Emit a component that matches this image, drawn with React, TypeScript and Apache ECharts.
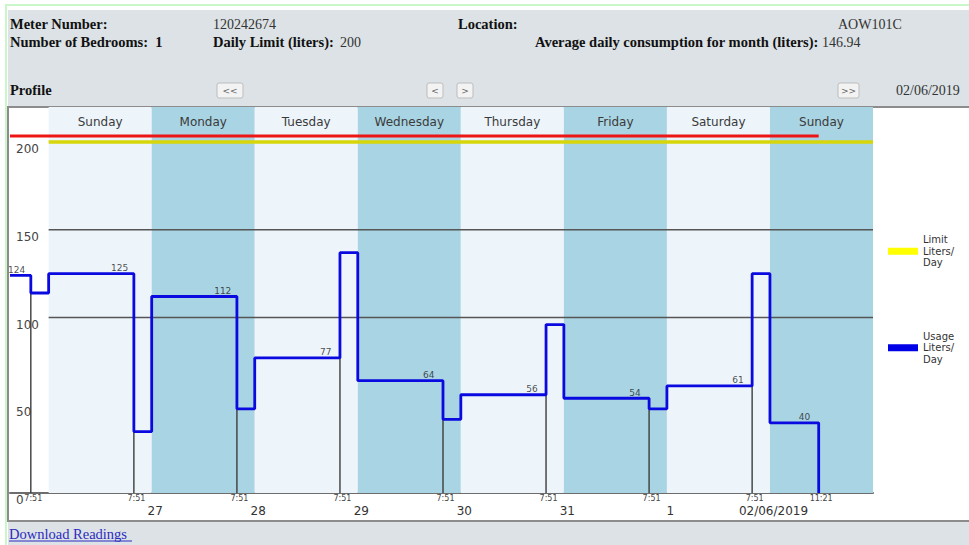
import React, { useEffect, useRef } from "react";
import * as echarts from "echarts";

// ---- data ----
const dayNames = ["Sunday", "Monday", "Tuesday", "Wednesday", "Thursday", "Friday", "Saturday", "Sunday"];
const dayStartHours = [0, 24, 48, 72, 96, 120, 144, 168];
const dateTickHours = [24, 48, 72, 96, 120, 144, 168];
const dateLabels = ["27", "28", "29", "30", "31", "1", "02/06/2019"];

// usage step line: value from segment start until reading time, then value after reading
const segmentStarts = [-9, 0, 24, 48, 72, 96, 120, 144, 168];
const dailyUsage = [124, 125, 112, 77, 64, 56, 54, 61, 40];
const readingHours = [-4.15, 19.85, 43.85, 67.85, 91.85, 115.85, 139.85, 163.85, 179.35];
const afterReading = [114, 35, 48, 137, 42, 96, 48, 125, 0];
const readingLabels = ["7:51", "7:51", "7:51", "7:51", "7:51", "7:51", "7:51", "7:51", "11:21"];

const limitValue = 200;
const peakValue = 203.5;
const guideLevels = [150, 100];
const yTicks = [0, 50, 100, 150, 200];

const X_MIN = -9;
const X_MAX = 192;
const Y_MAX = 220;

const limitName = "Limit Liters/ Day";
const usageName = "Usage Liters/ Day";

const SERIF = "'Liberation Serif', 'DejaVu Serif', serif";
const SANS = "'DejaVu Sans', Verdana, sans-serif";

export default function App() {
  const ref = useRef<HTMLDivElement>(null);

  useEffect(() => {
    if (!ref.current) return;
    const chart = echarts.init(ref.current, null, { renderer: "svg" });

    const usageData: any[] = [];
    segmentStarts.forEach((s, i) => {
      usageData.push([s, dailyUsage[i]]);
      usageData.push([readingHours[i], afterReading[i]]);
    });

    const verticalData: any[] = [];
    readingHours.forEach((t, i) => {
      verticalData.push([t, 0]);
      verticalData.push([t, Math.max(dailyUsage[i], afterReading[i])]);
      verticalData.push([t, "-"]);
    });

    const guideData: any[] = [];
    guideLevels.forEach((g) => {
      guideData.push([0, g]);
      guideData.push([X_MAX, g]);
      guideData.push([X_MAX, "-"]);
    });

    const bandAreas = dayStartHours.map((s, i) => [
      {
        name: dayNames[i],
        xAxis: s,
        itemStyle: { color: i % 2 === 0 ? "#edf5fb" : "#a9d4e3" },
      },
      { xAxis: s + 24 },
    ]);

    const valueLabelData = dailyUsage.map((v, i) => [readingHours[i] - 3.3, v]);

    const headerText = (text: string, x: number, y: number, bold = true) => ({
      type: "text",
      x,
      y,
      style: {
        text,
        fill: bold ? "#111" : "#333",
        font: `${bold ? "bold 14.5px" : "14px"} ${SERIF}`,
        verticalAlign: "middle",
      },
      z: 0,
    });

    const button = (label: string, x: number, w: number) => ({
      type: "group",
      children: [
        {
          type: "rect",
          shape: { x, y: 83, width: w, height: 15, r: 2 },
          style: { fill: "#f3f3f3", stroke: "#bdbdbd", lineWidth: 1 },
        },
        {
          type: "text",
          x: x + w / 2,
          y: 90.5,
          style: {
            text: label,
            fill: "#666",
            font: `9px ${SANS}`,
            align: "center",
            verticalAlign: "middle",
          },
        },
      ],
    });

    const option: any = {
      animation: false,
      backgroundColor: "#ffffff",
      graphic: [
        { type: "rect", shape: { x: 6, y: 5, width: 1000, height: 600 }, style: { fill: "none", stroke: "#c9f7c9", lineWidth: 2 }, z: 0 },
        { type: "rect", shape: { x: 8, y: 10, width: 961, height: 97 }, style: { fill: "#dce2e5" }, z: 0 },
        { type: "rect", shape: { x: 8, y: 522, width: 961, height: 23 }, style: { fill: "#dce2e5" }, z: 0 },
        { type: "rect", shape: { x: 8, y: 107, width: 975, height: 414 }, style: { fill: "none", stroke: "#8c8c8c", lineWidth: 2 }, z: 0 },
        headerText("Meter Number:", 10, 24),
        headerText("120242674", 213, 24, false),
        headerText("Location:", 458, 24),
        headerText("AOW101C", 838, 24, false),
        headerText("Number of Bedrooms:  1", 10, 42),
        headerText("Daily Limit (liters):", 213, 42),
        headerText("200", 340, 42, false),
        headerText("Average daily consumption for month (liters):", 535, 42),
        headerText("146.94", 822, 42, false),
        headerText("Profile", 10, 90),
        button("<<", 217, 26),
        button("<", 427, 16),
        button(">", 457, 16),
        button(">>", 838, 21),
        headerText("02/06/2019", 896, 90, false),
        {
          type: "text",
          x: 9,
          y: 534,
          style: { text: "Download Readings", fill: "#2b2bc0", font: `14.5px ${SERIF}`, verticalAlign: "middle" },
        },
        { type: "line", shape: { x1: 9, y1: 541, x2: 132, y2: 541 }, style: { stroke: "#2b2bc0", lineWidth: 1 } },
      ],
      grid: { left: 10, right: 96, top: 107, bottom: 52, containLabel: false },
      legend: {
        orient: "vertical",
        left: 883,
        top: 229,
        itemWidth: 30,
        itemHeight: 7,
        itemGap: 62,
        icon: "rect",
        selectedMode: false,
        data: [{ name: limitName, itemStyle: { color: "#ffff00" } }, { name: usageName, itemStyle: { color: "#0000e6" } }],
        formatter: (n: string) => n.split(" ").join("\n"),
        textStyle: { fontSize: 10, lineHeight: 11.5, color: "#333", fontFamily: SANS },
      },
      xAxis: [
        {
          type: "value",
          min: X_MIN,
          max: X_MAX,
          axisLine: { show: true, lineStyle: { color: "#6d6d6d", width: 2 } },
          axisTick: { show: false },
          splitLine: { show: false },
          axisLabel: {
            customValues: dateTickHours,
            formatter: (v: number) => {
              const i = dateTickHours.indexOf(v);
              return i >= 0 ? dateLabels[i] : "";
            },
            margin: 12,
            padding: [0, 0, 0, 7],
            fontSize: 12,
            color: "#333",
            fontFamily: SANS,
          },
        },
        {
          type: "value",
          min: X_MIN,
          max: X_MAX,
          position: "bottom",
          gridIndex: 0,
          axisLine: { show: false },
          axisTick: { show: false },
          splitLine: { show: false },
          axisLabel: {
            customValues: readingHours,
            formatter: (v: number) => {
              const i = readingHours.indexOf(v);
              return i >= 0 ? readingLabels[i] : "";
            },
            margin: 1,
            padding: [0, 0, 0, 5],
            fontSize: 8,
            color: "#444",
            fontFamily: SANS,
          },
        },
      ],
      yAxis: {
        type: "value",
        min: 0,
        max: Y_MAX,
        axisLine: { show: false },
        axisTick: { show: false },
        splitLine: { show: false },
        axisLabel: {
          customValues: yTicks,
          inside: true,
          margin: 6,
          align: "left",
          verticalAlign: "top",
          padding: [1, 0, 0, 0],
          fontSize: 12,
          color: "#444",
          fontFamily: SANS,
        },
      },
      series: [
        {
          name: "bands",
          type: "line",
          data: [],
          silent: true,
          z: 1,
          markArea: {
            silent: true,
            z: 1,
            label: {
              show: true,
              position: "insideTop",
              distance: 9,
              color: "#3a3a3a",
              fontSize: 12,
              fontFamily: SANS,
            },
            data: bandAreas,
          },
        },
        {
          name: "guides",
          type: "line",
          data: guideData,
          silent: true,
          showSymbol: false,
          symbol: "none",
          z: 3,
          lineStyle: { color: "#555", width: 1.5 },
        },
        {
          name: "readings",
          type: "line",
          data: verticalData,
          silent: true,
          showSymbol: false,
          symbol: "none",
          z: 4,
          lineStyle: { color: "#3c3c3c", width: 1.4 },
        },
        {
          name: limitName,
          type: "line",
          data: [
            [0, limitValue],
            [X_MAX, limitValue],
          ],
          silent: true,
          showSymbol: false,
          symbol: "none",
          z: 5,
          itemStyle: { color: "#ffff00" },
          lineStyle: { color: "#d6d60a", width: 3.5 },
        },
        {
          name: "peak",
          type: "line",
          data: [
            [X_MIN, peakValue],
            [readingHours[readingHours.length - 1], peakValue],
          ],
          silent: true,
          showSymbol: false,
          symbol: "none",
          z: 6,
          lineStyle: { color: "#ee1515", width: 3 },
        },
        {
          name: usageName,
          type: "line",
          step: "end",
          data: usageData,
          silent: true,
          showSymbol: false,
          symbol: "none",
          z: 10,
          itemStyle: { color: "#0000e6" },
          lineStyle: { color: "#0a0ae0", width: 2.8 },
        },
        {
          name: "values",
          type: "scatter",
          data: valueLabelData,
          symbolSize: 0,
          silent: true,
          z: 11,
          label: {
            show: true,
            position: "top",
            distance: 1,
            formatter: (p: any) => String(p.value[1]),
            fontSize: 9,
            color: "#222",
            fontFamily: SANS,
          },
        },
      ],
    };

    chart.setOption(option);
    return () => chart.dispose();
  }, []);

  return (
    <div
      ref={ref}
      style={{ position: "fixed", left: 0, top: 0, width: 969, height: 545, background: "#fff" }}
    />
  );
}
